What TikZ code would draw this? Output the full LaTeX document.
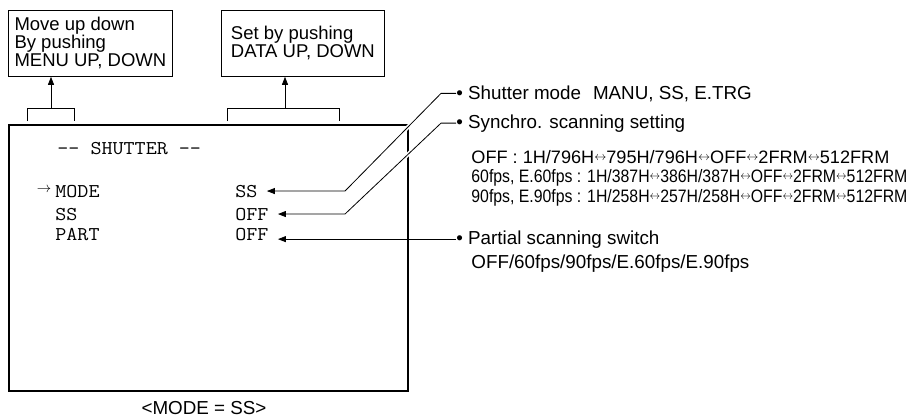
\documentclass[tikz,border=0pt]{standalone}
\usepackage{fontspec}
\usepackage{graphicx}
\setmainfont{Liberation Sans}
\usetikzlibrary{arrows.meta}
\newcommand\scr[1]{\scalebox{1.1}[1]{\ttfamily\fontsize{19.5}{19.5}\selectfont #1}}
\newcommand\narrow[2]{\resizebox{#1}{\height}{\fontsize{18}{18}\selectfont #2}}
\newcommand\lr{\raisebox{2.8pt}{\fontsize{13}{13}\selectfont$\leftrightarrow$}}

\begin{document}
\begin{tikzpicture}[x=1pt,y=-1pt,line width=0.8pt,font=\fontsize{18.8}{18}\selectfont,
  keybox/.style={draw,anchor=north west,align=left,font=\fontsize{18.5}{18}\selectfont,inner xsep=4pt,inner ysep=0pt,minimum width=164pt,minimum height=66pt},
  txt/.style={anchor=base west,inner sep=0pt},
  pointer/.style={-{Triangle[length=8pt,width=6pt]}},
  leader/.style={pointer,shorten >=9pt},
  halo/.style={preaction={draw=white,line width=4pt,-}}]
\useasboundingbox (0,0) rectangle (911,418);

\node[keybox] (menubox) at (8,10) {Move up down\\By pushing\\MENU UP, DOWN};
\node[keybox,minimum width=163pt] (databox) at (221,10) {Set by pushing\\DATA UP, DOWN};

\coordinate (mb) at (51,108);
\coordinate (db) at (285,108);
\draw (27,121) -- (27,108) -- (74,108) -- (74,121);
\draw (227,121) -- (227,108) -- (339,108) -- (339,121);
\draw[pointer] (mb) -- (mb |- menubox.south);
\draw[pointer] (db) -- (db |- databox.south);

\node[draw,line width=1.6pt,anchor=north west,minimum width=399pt,minimum height=266pt,inner sep=0pt] (screen) at (8,124) {};

\node[txt] (title) at (57,154) {\scr{-{}- SHUTTER -{}-}};
\node[inner sep=0pt] (cursor) at (44,190) {\fontsize{15}{15}\selectfont$\rightarrow$};
\node[txt] (lmode) at (55,197) {\scr{MODE}};
\node[txt] (lss) at (55,220) {\scr{SS}};
\node[txt] (lpart) at (55,240) {\scr{PART}};
\node[txt] (vmode) at (235,197) {\scr{SS}};
\node[txt] (vss) at (235,220) {\scr{OFF}};
\node[txt] (vpart) at (235,240) {\scr{OFF}};

\node[txt] (dshutter) at (456,99) {• Shutter mode\hspace{12pt}MANU, SS, E.TRG};
\node[txt] (dsync) at (456,128) {• Synchro. scanning setting};
\node[txt] (sync1) at (471,163) {\narrow{418pt}{OFF : 1H/796H\lr795H/796H\lr OFF\lr2FRM\lr512FRM}};
\node[txt] (sync2) at (471,182) {\narrow{436pt}{60fps, E.60fps : 1H/387H\lr386H/387H\lr OFF\lr2FRM\lr512FRM}};
\node[txt] (sync3) at (471,202) {\narrow{436pt}{90fps, E.90fps : 1H/258H\lr257H/258H\lr OFF\lr2FRM\lr512FRM}};
\node[txt] (dpart) at (456,244) {• Partial scanning switch};
\node[txt] (part1) at (471,268) {OFF/60fps/90fps/E.60fps/E.90fps};

\coordinate (bend) at (345,0);
\draw[leader,halo] (dshutter.west) -- ++(-15,0) -- (vmode.east -| bend) -- (vmode.east);
\draw[leader,halo] (dsync.west) -- ++(-15,0) -- (vss.east -| bend) -- (vss.east);
\draw[leader] (dpart.west) -- (dpart.west -| vpart.east);

\node[txt,anchor=base] (caption) at (204,414) {<MODE = SS>};
\end{tikzpicture}
\end{document}
